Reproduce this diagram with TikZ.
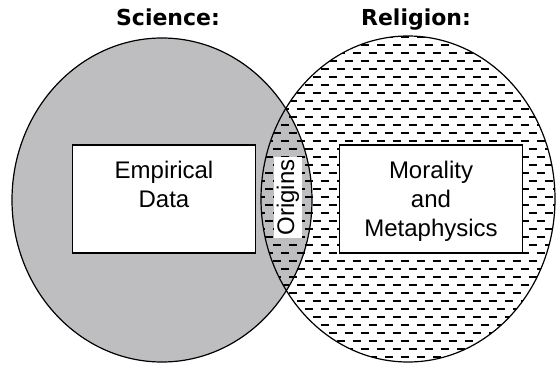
\documentclass[tikz,border=0pt]{standalone}
\usepackage{fontspec}
\setmainfont{Liberation Sans}
\newfontfamily\headfont{DejaVu Sans}
\usetikzlibrary{positioning}
\definecolor{sciencegray}{RGB}{190,190,192}

\tikzset{
  setbox/.style={draw=black, line width=1.4pt, fill=white, minimum width=183pt, minimum height=108pt, inner sep=0pt},
  settext/.style={align=center, inner sep=0pt, font=\fontsize{24}{29}\selectfont},
  heading/.style={font=\headfont\bfseries\fontsize{22}{26}\selectfont, anchor=base},
  hatch/.style={line width=1.6pt, dash pattern=on 8pt off 8pt},
  rim/.style={line width=1.2pt, draw=black},
}

\begin{document}
\begin{tikzpicture}[x=1pt, y=-1pt]
  \useasboundingbox (0,0) rectangle (556,364);

  % the two sets
  \fill[sciencegray] (162,200) ellipse [x radius=150, y radius=162];
  \begin{scope}
    \clip (408,199) ellipse [x radius=147, y radius=163];
    \foreach \y in {37,53,...,365}
      \draw[hatch] (257,\y) -- (570,\y);
    \foreach \y in {45,61,...,365}
      \draw[hatch] (249,\y) -- (570,\y);
  \end{scope}
  \draw[rim] (162,200) ellipse [x radius=150, y radius=162];
  \draw[rim] (408,199) ellipse [x radius=147, y radius=163];

  % boxes
  \node[setbox] (empbox) at (164,199) {};
  \node[setbox] (morbox) at (431,199) {};
  \node[settext, below=17pt of empbox.north] (emptext) {Empirical\\Data};
  \node[settext, below=17pt of morbox.north] (mortext) {Morality\\and\\Metaphysics};

  \node[settext, rotate=90, fill=white, inner xsep=2pt, inner ysep=3pt] (origins) at (288,197.5) {Origins};

  % headings
  \node[heading] (science) at (168,25) {Science:};
  \node[heading] (religion) at (416,25) {Religion:};
\end{tikzpicture}
\end{document}
